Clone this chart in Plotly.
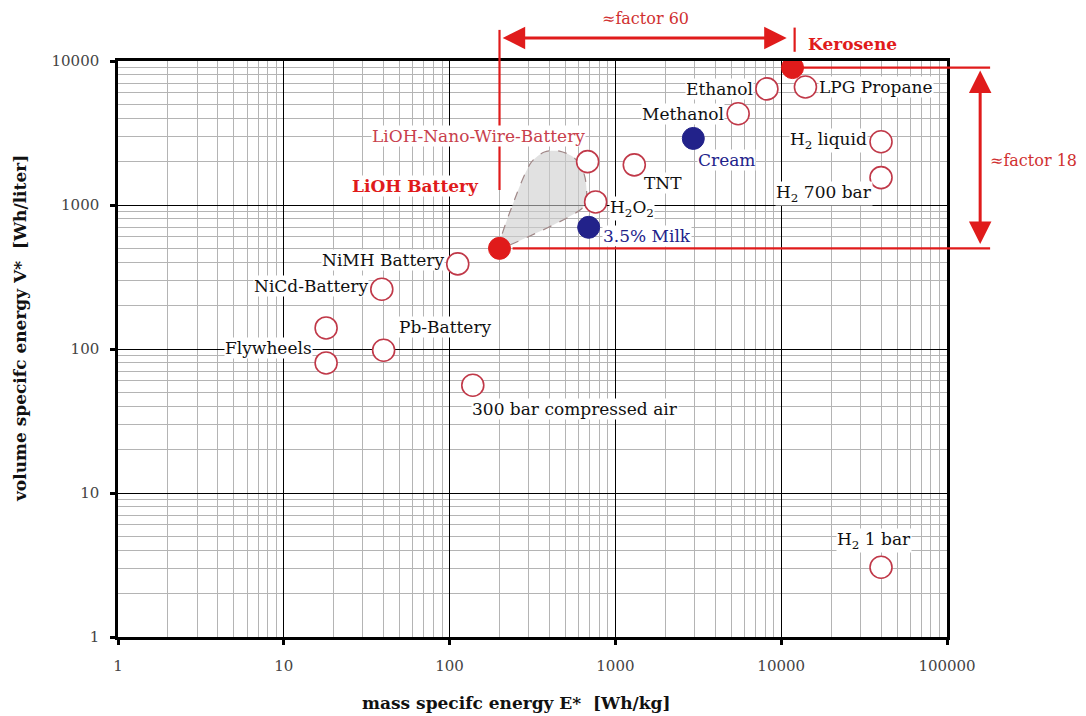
import numpy as np
import plotly.graph_objects as go

# ---------------- data ----------------
open_names = ["LPG Propane", "Ethanol", "Methanol", "H2 liquid", "H2 700 bar", "TNT",
              "LiOH Nano-Wire", "H2O2", "NiMH Battery", "NiCd-Battery", "Flywheel A",
              "Flywheel B", "Pb-Battery", "300 bar compressed air", "H2 1 bar"]
open_x = [14000, 8200, 5500, 40000, 40000, 1300, 680, 760, 112, 39, 18, 18, 40, 138, 40000]
open_y = [6600, 6400, 4300, 2750, 1550, 1900, 2000, 1050, 390, 260, 140, 80, 98, 56, 3.05]

red_names = ["Kerosene", "LiOH Battery"]
red_x = [11700, 200]
red_y = [9000, 500]

blue_names = ["Cream", "3.5% Milk"]
blue_x = [2950, 690]
blue_y = [2900, 700]

# LiOH nano-wire battery region outline
nano_x = [200, 246, 312, 373, 460, 566, 650, 669, 633, 230, 200]
nano_y = [500, 1083, 1990, 2335, 2370, 2120, 1616, 1118, 953, 527, 500]

x_ticks = [1, 10, 100, 1000, 10000, 100000]
x_tick_text = ["1", "10", "100", "1000", "10000", "100000"]
y_ticks = [1, 10, 100, 1000, 10000]
y_tick_text = ["1", "10", "100", "1000", "10000"]

factor_mass = "≈factor 60"
factor_vol = "≈factor 18"

FONT = "DejaVu Serif"
RED = "#e01b1b"
RING = "#c03848"
NAVY = "#22228a"
BLACK = "#111111"

minor_vals = [k * 10 ** d for d in range(5) for k in range(2, 10)]
minor_vals_y = [k * 10 ** d for d in range(4) for k in range(2, 10)]

fig = go.Figure()

# nano-wire region
fig.add_trace(go.Scatter(
    x=nano_x, y=nano_y, mode="lines", fill="toself",
    fillcolor="rgba(205,205,205,0.6)",
    line=dict(color="#a08888", width=1.2, dash="dash", shape="spline", smoothing=0.8),
    hoverinfo="skip", showlegend=False))

fig.add_trace(go.Scatter(
    x=open_x, y=open_y, mode="markers", text=open_names,
    marker=dict(symbol="circle", size=22, color="white",
                line=dict(color=RING, width=1.6)),
    showlegend=False))
fig.add_trace(go.Scatter(
    x=red_x, y=red_y, mode="markers", text=red_names,
    marker=dict(symbol="circle", size=22, color=RED, line=dict(color=RED, width=1)),
    showlegend=False))
fig.add_trace(go.Scatter(
    x=blue_x, y=blue_y, mode="markers", text=blue_names,
    marker=dict(symbol="circle", size=22, color=NAVY, line=dict(color=NAVY, width=1)),
    showlegend=False))

# ---------------- labels ----------------
def lab(text, x, y, xanchor="left", xshift=0, yshift=0, color=BLACK, size=17, bg="white"):
    fig.add_annotation(x=np.log10(x), y=np.log10(y), xref="x", yref="y", text=text,
                       showarrow=False, xanchor=xanchor, yanchor="middle",
                       xshift=xshift, yshift=yshift, bgcolor=bg, borderpad=0,
                       font=dict(family=FONT, size=size, color=color))

o = dict(zip(open_names, zip(open_x, open_y)))
r = dict(zip(red_names, zip(red_x, red_y)))
b = dict(zip(blue_names, zip(blue_x, blue_y)))

lab("LPG Propane", *o["LPG Propane"], "left", 13, 0)
lab("Ethanol", *o["Ethanol"], "right", -13, 0)
lab("Methanol", *o["Methanol"], "right", -13, 0)
lab("H<sub>2</sub> liquid", *o["H2 liquid"], "right", -13, 1)
lab("H<sub>2</sub> 700 bar", *o["H2 700 bar"], "right", -8, -16)
lab("TNT", *o["TNT"], "left", 9, -18)
lab("H<sub>2</sub>O<sub>2</sub>", *o["H2O2"], "left", 13, -7)
lab("NiMH Battery", *o["NiMH Battery"], "right", -13, 4)
lab("NiCd-Battery", *o["NiCd-Battery"], "right", -13, 3)
lab("Flywheels", o["Flywheel A"][0], 100, "right", -13, 1)
lab("Pb-Battery", *o["Pb-Battery"], "left", 14, 23)
lab("300 bar compressed air", *o["300 bar compressed air"], "left", -2, -24)
lab("H<sub>2</sub> 1 bar", *o["H2 1 bar"], "center", -7, 27)
lab("<b>Kerosene</b>", *r["Kerosene"], "left", 14, 24, color=RED)
lab("<b>LiOH Battery</b>", *r["LiOH Battery"], "right", -20, 62, color=RED)
lab("LiOH-Nano-Wire-Battery", *o["LiOH Nano-Wire"], "right", -2, 26, color="#c8404c")
lab("Cream", *b["Cream"], "left", 4, -22, color=NAVY)
lab("3.5% Milk", *b["3.5% Milk"], "left", 13, -9, color=NAVY)

# ---------------- factor annotations (shapes take raw data values on log axes) ----------------
LINE = dict(color=RED, width=2.2)
fig.add_shape(type="line", xref="x", yref="paper", x0=red_x[1], x1=red_x[1],
              y0=0.776, y1=1.054, line=LINE)
fig.add_shape(type="line", xref="x", yref="paper", x0=red_x[0] * 1.03, x1=red_x[0] * 1.03,
              y0=1.016, y1=1.058, line=LINE)
fig.add_shape(type="line", xref="paper", yref="y", x0=np.log10(red_x[0] * 1.15) / 5, x1=1.052,
              y0=red_y[0], y1=red_y[0], line=LINE)
fig.add_shape(type="line", xref="paper", yref="y", x0=np.log10(red_x[1] * 1.2) / 5, x1=1.052,
              y0=red_y[1], y1=red_y[1], line=LINE)

# double arrows (annotations take log10 values on log axes)
fig.add_annotation(x=np.log10(red_x[0]) - 0.035, y=1.040, xref="x", yref="paper",
                   ax=np.log10(red_x[1]) + 0.01, ay=0, axref="x", ayref="pixel",
                   showarrow=True, arrowhead=2, arrowside="end+start", arrowsize=1.5,
                   arrowwidth=3, arrowcolor=RED, text="")
fig.add_annotation(x=1.040, y=np.log10(red_y[0]) - 0.02, xref="paper", yref="y",
                   ax=0, ay=np.log10(red_y[1]) + 0.02, axref="pixel", ayref="y",
                   showarrow=True, arrowhead=2, arrowside="end+start", arrowsize=1.5,
                   arrowwidth=3, arrowcolor=RED, text="")
fig.add_annotation(x=0.636, y=1.073, xref="paper", yref="paper", text=factor_mass,
                   showarrow=False, xanchor="center", yanchor="middle",
                   font=dict(family=FONT, size=16, color="#d03030"))
fig.add_annotation(x=1.049, y=0.828, xref="paper", yref="paper", text=factor_vol,
                   showarrow=False, xanchor="left", yanchor="middle",
                   font=dict(family=FONT, size=16, color="#d03030"))

# axis titles
fig.add_annotation(x=0.48, y=-0.115, xref="paper", yref="paper",
                   text="<b>mass specifc energy E*  [Wh/kg]</b>", showarrow=False,
                   xanchor="center", yanchor="middle",
                   font=dict(family=FONT, size=17, color=BLACK))
fig.add_annotation(x=-0.118, y=0.535, xref="paper", yref="paper", textangle=-90,
                   text="<b>volume specifc energy V*  [Wh/liter]</b>", showarrow=False,
                   xanchor="center", yanchor="middle",
                   font=dict(family=FONT, size=17, color=BLACK))

axis_common = dict(
    type="log", showline=True, linecolor="black", linewidth=2.5, mirror=True,
    showgrid=True, gridcolor="black", gridwidth=1.2, zeroline=False,
    ticks="outside", ticklen=5, tickwidth=3, tickcolor="black",
    tickfont=dict(family=FONT, size=15, color="#444444"),
)
fig.update_xaxes(range=[0, 5], tickmode="array", tickvals=x_ticks, ticktext=x_tick_text,
                 minor=dict(tickmode="array", tickvals=minor_vals, showgrid=True,
                            gridcolor="#b4b4b4", gridwidth=0.8, ticks=""),
                 ticklabelstandoff=8, **axis_common)
fig.update_yaxes(range=[0, 4], tickmode="array", tickvals=y_ticks, ticktext=y_tick_text,
                 minor=dict(tickmode="array", tickvals=minor_vals_y, showgrid=True,
                            gridcolor="#b4b4b4", gridwidth=0.8, ticks=""),
                 ticklabelstandoff=8, **axis_common)

fig.update_layout(
    width=1086, height=716,
    margin=dict(l=118, r=139, t=61, b=79),
    paper_bgcolor="white", plot_bgcolor="white",
    showlegend=False,
    font=dict(family=FONT),
)

fig.write_html("out.html")
